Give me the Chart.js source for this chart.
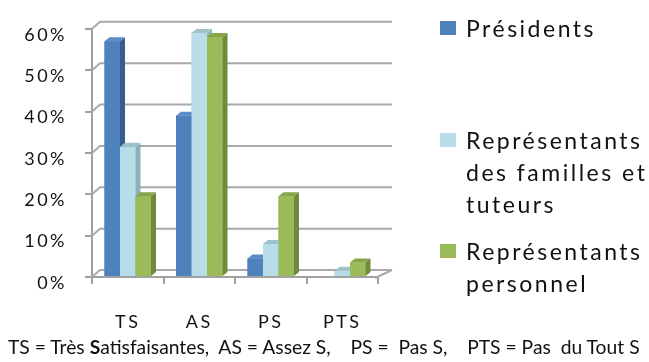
<!DOCTYPE html>
<html lang="fr">
<head>
<meta charset="utf-8">
<title>Satisfaction</title>
<script src="https://cdn.jsdelivr.net/npm/chart.js@4/dist/chart.umd.min.js"></script>
<style>
  html, body { margin: 0; padding: 0; background: #fff; }
  #wrap { position: relative; width: 649px; height: 362px; overflow: hidden; background: #fff; font-family: Lato, "Liberation Sans", sans-serif; color: #111; }
  #c { position: absolute; left: 0; top: 0; }
  .lg-item { position: absolute; left: 440px; }
  .lg-box { position: absolute; left: 0; width: 16px; height: 14px; }
  .lg-text { position: absolute; left: 26px; white-space: nowrap; font-size: 23px; line-height: 32px; letter-spacing: 2.5px; }
  #note { position: absolute; left: 8px; top: 347px; transform: translateY(-50%); font-size: 17px; line-height: 24px; white-space: pre; display: inline-block; }
</style>
</head>
<body>
<div id="wrap">
  <canvas id="c" width="649" height="362"></canvas>
  <div id="legend"></div>
  <div id="note">TS = Très <b>S</b>atisfaisantes,  AS = Assez S,    PS =  Pas S,    PTS = Pas  du Tout S</div>
</div>
<script>
// Response categories and the share of each group (in %)
const categories = ['TS', 'AS', 'PS', 'PTS'];
const presidents = [57, 39, 4.5, 0];
const familles = [31.5, 59, 8, 1.5];
const personnel = [19.5, 58, 19.5, 3.5];
const yTickValues = [0, 10, 20, 30, 40, 50, 60];

const seriesLabels = [
  ['Présidents'],
  ['Représentants', 'des familles et', 'tuteurs'],
  ['Représentants', 'personnel']
];

const frontColors = ['#4F81BD', '#B7DEE8', '#9BBB59'];
const sideColors  = ['#385D8A', '#8DB1BB', '#6F8A3A'];
const topColors   = ['#5E8CC4', '#9DC2CC', '#86A44A'];

// depth of the columns and of the back wall
const DX = 5, DY = 4;
const WX = 8, WY = 7, WR = 14;

const wallPlugin = {
  id: 'wall3d',
  beforeDraw(chart) {
    chart.ctx.letterSpacing = '2.5px';
  },
  beforeDatasetsDraw(chart) {
    const ctx = chart.ctx;
    const a = chart.chartArea;
    const ys = chart.scales.y;
    ctx.save();
    ctx.strokeStyle = '#a9a9a9';
    ctx.lineWidth = 2;
    yTickValues.forEach(v => {
      const py = ys.getPixelForValue(v);
      ctx.beginPath();
      ctx.moveTo(a.left, py);
      ctx.lineTo(a.left + WX, py - WY);
      ctx.lineTo(a.right + WR, py - WY);
      ctx.stroke();
    });
    // right edge of the floor
    ctx.beginPath();
    ctx.moveTo(a.right - 3, a.bottom + 1);
    ctx.lineTo(a.right + WR, a.bottom - WY);
    ctx.stroke();
    ctx.restore();
  },
  afterDatasetsDraw(chart) {
    const ctx = chart.ctx;
    ctx.save();
    const n = chart.data.labels.length;
    for (let j = 0; j < n; j++) {
      chart.data.datasets.forEach((ds, i) => {
        const v = ds.data[j];
        if (!v) return;
        const bar = chart.getDatasetMeta(i).data[j];
        const { x, y, base, width } = bar.getProps(['x', 'y', 'base', 'width'], true);
        const l = x - width / 2, r = x + width / 2;
        // front
        ctx.fillStyle = frontColors[i];
        ctx.fillRect(l, y, r - l, base - y);
        // side
        ctx.fillStyle = sideColors[i];
        ctx.beginPath();
        ctx.moveTo(r, y);
        ctx.lineTo(r + DX, y - DY);
        ctx.lineTo(r + DX, base - DY);
        ctx.lineTo(r, base);
        ctx.closePath();
        ctx.fill();
        // top
        ctx.fillStyle = topColors[i];
        ctx.beginPath();
        ctx.moveTo(l, y);
        ctx.lineTo(l + DX, y - DY);
        ctx.lineTo(r + DX, y - DY);
        ctx.lineTo(r, y);
        ctx.closePath();
        ctx.fill();
      });
    }
    ctx.restore();
  }
};

const datasets = [presidents, familles, personnel].map((d, i) => ({
  label: seriesLabels[i].join(' '),
  data: d,
  backgroundColor: frontColors[i],
  borderWidth: 0,
  clip: false,
  barPercentage: 1,
  categoryPercentage: 0.65
}));

const tickFont = { family: 'Lato', size: 18 };

new Chart(document.getElementById('c'), {
  type: 'bar',
  data: { labels: categories, datasets },
  options: {
    responsive: false,
    animation: false,
    devicePixelRatio: 1,
    layout: { padding: { top: 25, right: 271, left: 0, bottom: 0 } },
    plugins: { legend: { display: false }, tooltip: { enabled: false } },
    scales: {
      x: {
        afterFit: s => { s.height = 85; },
        grid: { drawOnChartArea: false, drawTicks: true, tickLength: 7, color: '#a0a0a0', lineWidth: 2 },
        border: { display: true, color: '#a0a0a0', width: 2 },
        ticks: { font: tickFont, color: '#111', padding: 27 }
      },
      y: {
        min: 0,
        max: 60,
        afterFit: s => { s.width = 92; },
        afterBuildTicks: s => { s.ticks = yTickValues.map(v => ({ value: v })); },
        grid: { drawOnChartArea: false, drawTicks: true, tickLength: 7, color: '#a0a0a0', lineWidth: 2 },
        border: { display: true, color: '#a0a0a0', width: 2 },
        ticks: { font: tickFont, color: '#111', padding: 18, labelOffset: 6, callback: v => v + '%' }
      }
    }
  },
  plugins: [wallPlugin]
});

// legend, one block per series
const legendTops = [28, 140, 251];
const legend = document.getElementById('legend');
seriesLabels.forEach((lines, i) => {
  const item = document.createElement('div');
  item.className = 'lg-item';
  item.style.top = legendTops[i] + 'px';
  const box = document.createElement('div');
  box.className = 'lg-box';
  box.style.background = frontColors[i];
  box.style.top = '-7px';
  const txt = document.createElement('div');
  txt.className = 'lg-text';
  txt.style.top = '-16px';
  txt.innerHTML = lines.join('<br>');
  item.appendChild(box);
  item.appendChild(txt);
  legend.appendChild(item);
});

// footnote spans the width of the figure
const note = document.getElementById('note');
const noteWidth = note.getBoundingClientRect().width;
note.style.fontSize = (17 * 632 / noteWidth).toFixed(2) + 'px';
</script>
</body>
</html>
